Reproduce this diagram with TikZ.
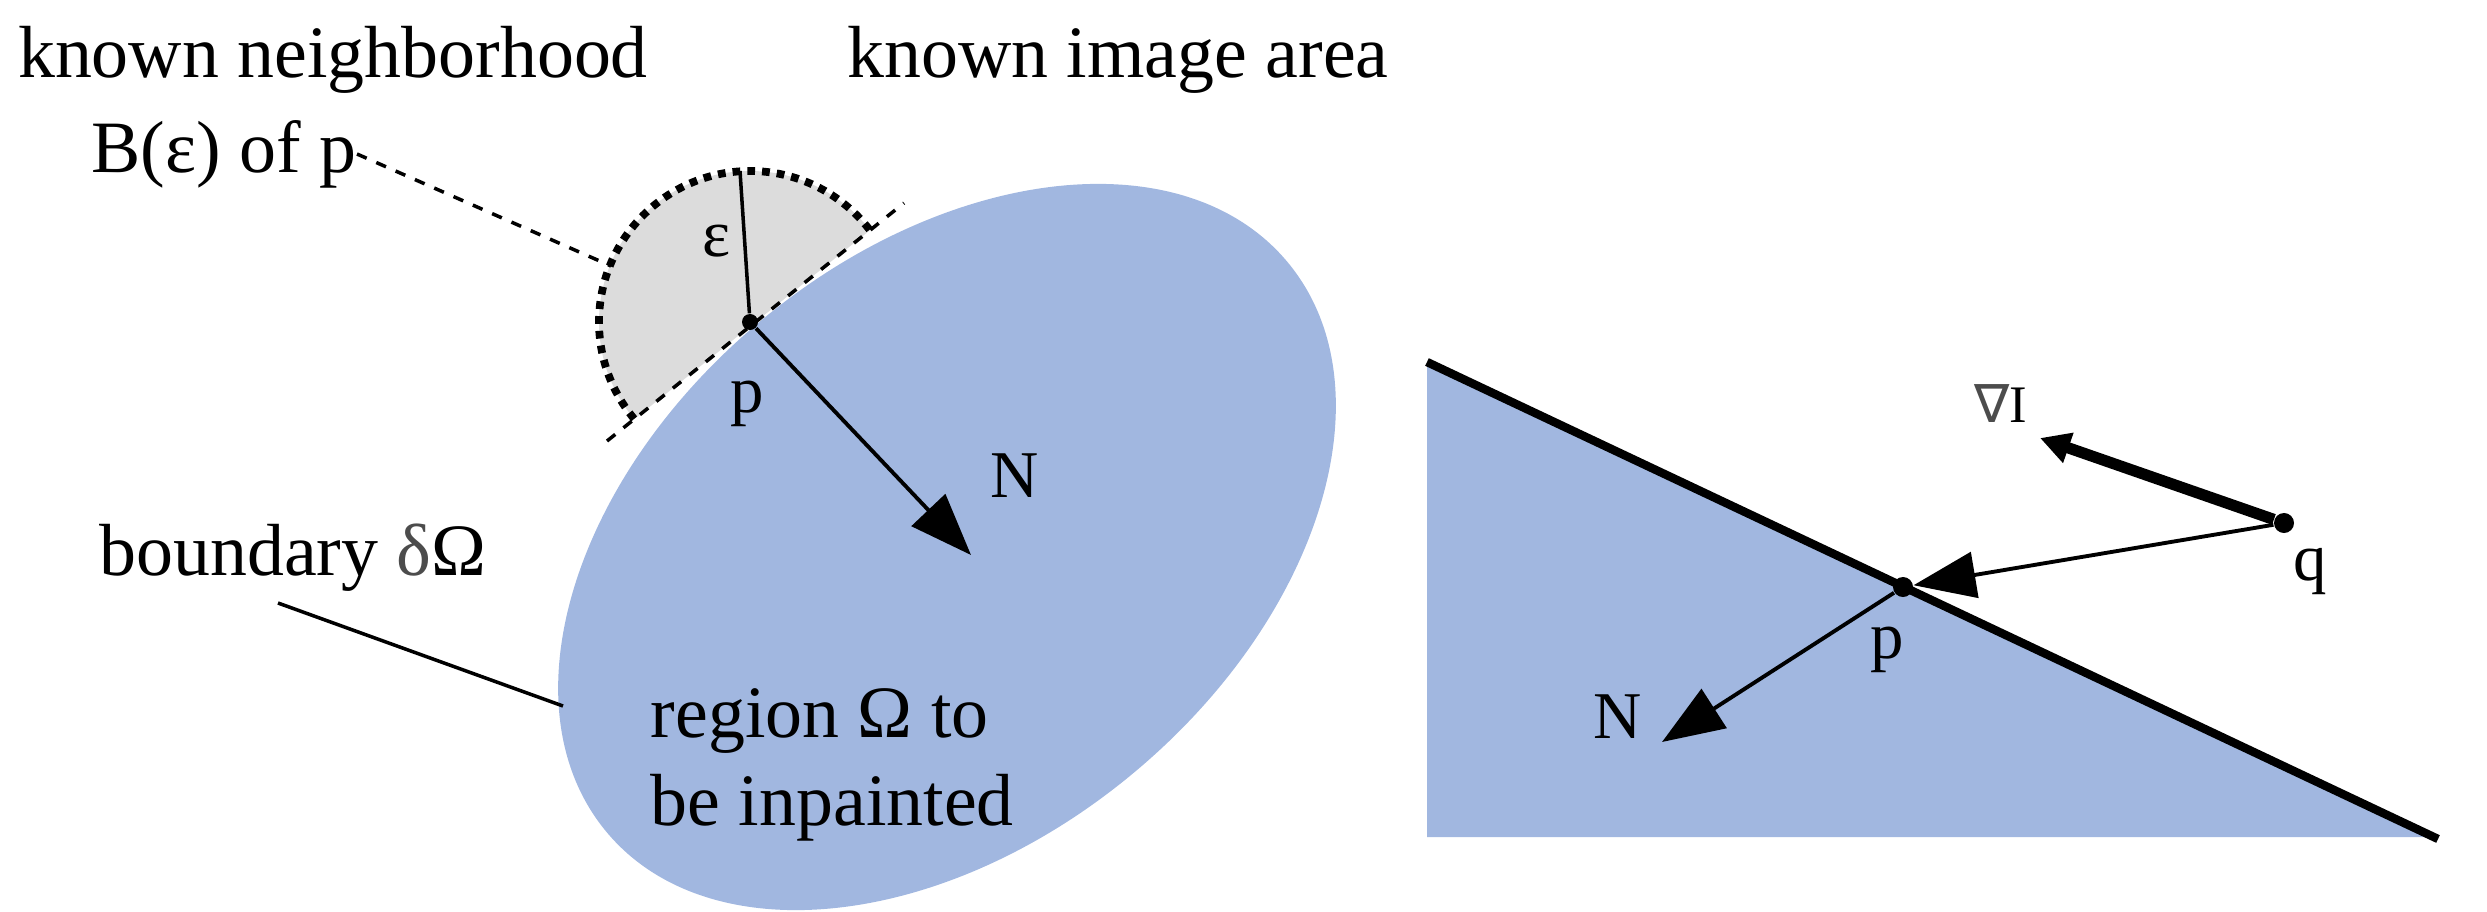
\documentclass[tikz,border=0pt]{standalone}
\usepackage{fontspec}
\setmainfont{Liberation Serif}
\newfontfamily\djv{DejaVu Sans}
\usetikzlibrary{arrows.meta}
\definecolor{reg}{HTML}{A1B7E0}
\definecolor{nb}{HTML}{DCDCDC}
\begin{document}
\begin{tikzpicture}[x=0.01cm,y=-0.01cm,
  lbl/.style={font=\fontsize{21}{25}\selectfont, inner sep=0pt},
  sm/.style={font=\fontsize{19}{22}\selectfont, inner sep=0pt},
  thin/.style={line width=1pt},
  big/.style={-{Triangle[length=0.62cm,width=0.46cm]}, line width=1.1pt},
  dot/.style={circle, fill=black, inner sep=0pt, minimum size=0.2cm}]
\useasboundingbox (0,0) rectangle (2487,912);
% left: region
\fill[reg, rotate around={40:(947,547)}] (947,547) ellipse [x radius=444, y radius=293];
\begin{scope}
\clip (607,441) -- (904,203) -- (779,47) -- (482,285) -- cycle;
\fill[nb] (750,322) circle [radius=151];
\draw[line width=2.2pt, dotted] (750,322) circle [radius=151];
\end{scope}
\coordinate (t1) at (607,441); \coordinate (t2) at (904,203);
\draw[thin, dashed] (t1) -- (t2);
\node[dot, minimum size=0.16cm] (p) at (750,322) {};
\coordinate (rtop) at (740,171);
\draw[thin] (p) -- (rtop);
\node[sm] (eps) at (717,241) {ε};
\node[sm] (plab) at (747,404) {p};
\coordinate (nend) at (971,555);
\draw[big] (p) -- (nend);
\node[sm] (nlab) at (1015,476) {N};
\node[lbl] (kn) at (333,60) {known neighborhood};
\node[lbl] (ki) at (1118,60) {known image area};
\node[lbl, anchor=east] (bp) at (357,154) {B(ε) of p};
\coordinate (dcirc) at (611,266);
\draw[thin, dashed] (bp.east) -- (dcirc);
\node[lbl] (bd) at (293,558) {boundary {\color{black!70}δ}Ω};
\coordinate (b1) at (278,603); \coordinate (b2) at (563,706);
\draw[thin] (b1) -- (b2);
\node[lbl, anchor=west, align=left] (rg) at (650,765) {region Ω to\\be inpainted};
% right
\fill[reg] (1427,362) -- (2434,837) -- (1427,837) -- cycle;
\coordinate (e1) at (1427,362); \coordinate (e2) at (2438,839);
\draw[line width=2.4pt] (e1) -- (e2);
\node[dot] (p2) at (1903,587) {};
\node[dot] (q) at (2284,523) {};
\node[sm] (p2l) at (1887,650) {p};
\node[sm] (ql) at (2310,572) {q};
\draw[big] (q) -- (p2);
\coordinate (gi) at (2040,438);
\draw[-{Triangle[length=0.3cm,width=0.3cm]}, line width=3.2pt] (q) -- (gi);
\node[font=\fontsize{15}{18}\selectfont, inner sep=0pt] (gl) at (2001,404) {{\djv\color{black!70}∇}I};
\coordinate (n2) at (1662,742);
\draw[big] (p2) -- (n2);
\node[sm] (n2l) at (1618,717) {N};
\end{tikzpicture}
\end{document}
